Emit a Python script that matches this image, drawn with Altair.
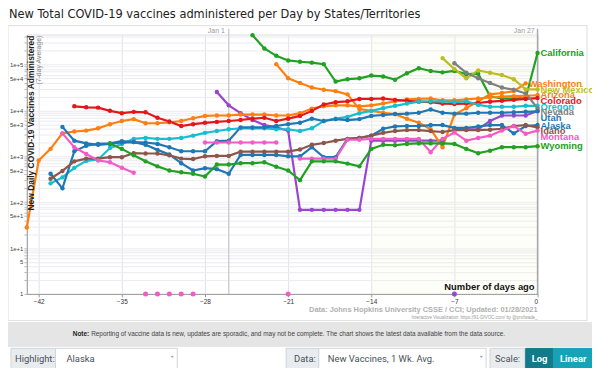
import altair as alt
import pandas as pd

# ---------------- data (7-day average new vaccines per day, by days ago) ----------------
states = ["Hawaii", "California", "Washington", "New Mexico", "Arizona", "Colorado", "Oregon",
          "Nevada", "Utah", "Alaska", "Idaho", "Montana", "Wyoming"]
colors = ["#9a45d0", "#21a121", "#ff7f0e", "#bcbd22", "#ff7f0e", "#e6141b", "#17becf",
          "#7f7f7f", "#1f77b4", "#1f77b4", "#8c564b", "#f25bc8", "#21a121"]
start_day = {"Hawaii": -27, "California": -24, "Washington": -22, "New Mexico": -8, "Arizona": -43,
             "Colorado": -39, "Oregon": -41, "Nevada": -7, "Utah": -40, "Alaska": -41,
             "Idaho": -41, "Montana": -40, "Wyoming": -36}

hawaii = [25100, 12900, 8710, 6170, 4790, 4270, 3630, 68, 68, 68, 68, 68, 68,
          2190, 2190, 2190, 2190, 2190, 2190, 2190, 0, 3890, 3890, 5890, 7760, 7760, 7760, 9770]
california = [437000, 224000, 155000, 123000, 115000, 110000, 102000, 42700, 47900, 50100,
              57500, 55000, 46800, 64600, 83200, 72400, 67600, 72400, 61700, 63100,
              20400, 18200, 18200, 18600, 178000]
washington = [102000, 50100, 39800, 31600, 28200, 26300, 22400, 10700, 9800, 8900, 8300,
              6600, 5400, 3900, 1580, 8100, 11200, 15800, 22400, 24000, 26300, 38900]
new_mexico = [138000, 79400, 50100, 74100, 66100, 58900, 47900, 28800, 28800]
arizona = [28, 810, 1450, 3160, 3470, 3630, 4070, 5010, 5890, 6460, 5250, 5250, 5500, 5890,
           6760, 7590, 7760, 7760, 8130, 8130, 8130, 7760, 7760, 8710, 10960, 12300, 12900,
           12900, 12300, 12900, 14100, 15800, 17400, 17800, 18200, 16600, 16600, 17400, 18200,
           19100, 20000, 20400, 20900, 21400]
colorado = [12300, 11700, 11500, 9800, 8700, 9300, 9100, 6900, 5750, 4570, 5010, 5370, 5620,
            5890, 6170, 6610, 6920, 5890, 6610, 7590, 9770, 13500, 15100, 15800, 17800, 17800,
            18200, 17000, 16200, 15500, 15100, 14100, 13800, 14100, 14500, 15500, 16200, 17000,
            17800, 18600]
oregon = [257, 347, 560, 794, 850, 1510, 1860, 2400, 2510, 2400, 2400, 2510, 2820, 3240, 3550,
          3890, 4070, 4070, 4070, 3890, 3890, 3550, 4070, 5890, 6610, 7240, 8710, 9770, 11200,
          12600, 14100, 15500, 15800, 15800, 15100, 15800, 13200, 12000, 12000, 12000, 12600, 12600]
nevada = [107000, 66100, 50100, 39800, 31600, 28200, 23400, 11200]
utah = [4370, 2190, 1910, 1780, 1860, 2000, 2040, 2000, 1860, 1580, 1290, 1290, 1290, 2140, 2190,
        4270, 4270, 4270, 4570, 5010, 5370, 6610, 5890, 6460, 6170, 6460, 7590, 7940, 8320, 8510,
        8910, 10500, 8910, 8510, 8510, 8910, 8910, 8910, 9120, 9330, 9550]
alaska = [417, 200, 1290, 1700, 1860, 1910, 2140, 2040, 1780, 1380, 1100, 708, 490, 550, 525, 417,
          1070, 1070, 1070, 1070, 1000, 1000, 1580, 955, 955, 2400, 2510, 2820, 3980, 4470, 4570,
          4570, 4790, 4790, 4170, 4170, 4470, 4790, 4790, 3160, 4570, 4790]
idaho = [324, 479, 776, 891, 891, 955, 955, 1170, 1150, 1150, 1050, 891, 871, 1000, 1020, 1020,
         1260, 1260, 1260, 1260, 1260, 1410, 1780, 1950, 2190, 2400, 2510, 2820, 3240, 3550, 3720,
         3720, 3550, 3390, 3720, 3720, 3720, 3800, 3980, 4570, 4790, 4270]
montana = [3160, 1580, 1120, 813, 741, 562, 437, 0, 0, 0, 0, 0, 2000, 2000, 2000, 2000, 2000,
           2000, 2000, 0, 891, 891, 891, 891, 2290, 2290, 2400, 2400, 2400, 2400, 2400, 1230, 2400,
           3310, 2190, 2510, 2820, 3630, 4570, 3090, 3630]
wyoming = [1910, 1450, 1050, 776, 603, 490, 447, 417, 363, 661, 661, 708, 708, 741, 589, 490, 302,
           776, 776, 776, 692, 603, 1450, 1780, 1740, 1860, 1910, 1910, 1910, 1860, 1450, 1170,
           1320, 1580, 1580, 1580, 1660]

series = {"Hawaii": hawaii, "California": california, "Washington": washington,
          "New Mexico": new_mexico, "Arizona": arizona, "Colorado": colorado, "Oregon": oregon,
          "Nevada": nevada, "Utah": utah, "Alaska": alaska, "Idaho": idaho, "Montana": montana,
          "Wyoming": wyoming}

label_names = ["California", "Washington", "New Mexico", "Arizona", "Colorado", "Oregon",
               "Nevada", "Utah", "Alaska", "Idaho", "Montana", "Wyoming"]
label_values = [174000, 38000, 28300, 21400, 15900, 12000, 9330, 6920, 4600, 3470, 2690, 1660]
label_days = [0, -1, 0, 0, 0, 0, 0, 0, 0, 0, 0, 0]

x_ticks = [-42, -35, -28, -21, -14, -7, 0]
y_labels = {1: "1", 5: "5", 10: "1e+1", 50: "5e+1", 100: "1e+2", 500: "5e+2", 1000: "1e+3",
            5000: "5e+3", 10000: "1e+4", 50000: "5e+4", 100000: "1e+5"}

# ---------------- build tables ----------------
rows, zeros = [], []
for name, vals in series.items():
    seg = 0
    for i, v in enumerate(vals):
        d = start_day[name] + i
        if v == 0:
            zeros.append({"state": name, "day": d, "value": 1})
            seg += 1
        else:
            rows.append({"state": name, "day": d, "value": v, "seg": f"{name}-{seg}"})
df = pd.DataFrame(rows)
zdf = pd.DataFrame(zeros)
ldf = pd.DataFrame({"state": label_names, "value": label_values, "day": label_days})

W, H = 516, 262
FONT = "Liberation Sans"
one = pd.DataFrame({"k": [0]})

y_grid_vals = [k * 10 ** e for e in range(0, 6) for k in range(1, 10) if k * 10 ** e <= 450000]
label_expr = "".join(f"datum.value=={k}?'{v}':" for k, v in y_labels.items()) + "''"

xs = alt.Scale(domain=[-43, 0], nice=False)
ys = alt.Scale(type="log", domain=[1, 450000], nice=False)
cs = alt.Scale(domain=states, range=colors)

X = alt.X("day:Q", scale=xs, axis=alt.Axis(values=x_ticks, title=None, labelFontSize=6.5,
                                          labelColor="#333", grid=True, gridColor="#e2e2ea",
                                          tickSize=3, domainColor="#999", tickColor="#999",
                                          labelFont=FONT))
Y = alt.Y("value:Q", scale=ys, axis=alt.Axis(values=y_grid_vals, labelExpr=label_expr, title=None,
                                            labelFontSize=6, labelColor="#444", grid=True,
                                            gridColor="#ebebf1", tickSize=3, domainColor="#999",
                                            tickColor="#bbb", labelFont=FONT, labelPadding=1))

cream = alt.Chart(one).mark_rect(color="#f4f4c4", opacity=0.12).encode(
    x=alt.datum(-14, scale=xs), x2=alt.datum(0), y=alt.value(0), y2=alt.value(H))

base_axes = alt.Chart(df).mark_line(opacity=0).encode(x=X, y=Y)

jan1 = alt.Chart(one).mark_rule(color="#cfcfcf", strokeWidth=1.5).encode(
    x=alt.datum(-26, scale=xs), y=alt.value(-6), y2=alt.value(H))
jan27 = alt.Chart(one).mark_rule(color="#a9a9b4", strokeWidth=1.5).encode(
    x=alt.datum(0, scale=xs), y=alt.value(-6), y2=alt.value(H))

lines = alt.Chart(df).mark_line(strokeWidth=2.2).encode(
    x=alt.X("day:Q", scale=xs), y=alt.Y("value:Q", scale=ys),
    color=alt.Color("state:N", scale=cs, legend=None), detail="seg:N", order="day:Q")
pts = alt.Chart(df).mark_circle(size=20, opacity=1).encode(
    x=alt.X("day:Q", scale=xs), y=alt.Y("value:Q", scale=ys),
    color=alt.Color("state:N", scale=cs, legend=None))
zpts = alt.Chart(zdf).mark_circle(size=26, opacity=1).encode(
    x=alt.X("day:Q", scale=xs), y=alt.Y("value:Q", scale=ys),
    color=alt.Color("state:N", scale=cs, legend=None))
labels = alt.Chart(ldf).mark_text(align="left", baseline="middle", dx=3, fontSize=9.5,
                                  fontWeight="bold", font=FONT).encode(
    x=alt.X("day:Q", scale=xs), y=alt.Y("value:Q", scale=ys),
    text="state:N", color=alt.Color("state:N", scale=cs, legend=None))


def txt(s, x, y, size, color, weight="normal", align="left", angle=0, font=FONT, baseline="middle"):
    return alt.Chart(one).mark_text(text=s, fontSize=size, color=color, fontWeight=weight,
                                    align=align, baseline=baseline, angle=angle, font=font).encode(
        x=alt.value(x), y=alt.value(y))


def box(x1, y1, x2, y2, fill, stroke="#ced4da", fo=1):
    return alt.Chart(one).mark_rect(fill=fill, stroke=stroke, strokeWidth=1, fillOpacity=fo).encode(
        x=alt.value(x1), x2=alt.value(x2), y=alt.value(y1), y2=alt.value(y2))


deco = [
    box(-19, -9, 566, 289, "#ffffff", stroke="#dedede", fo=0),
    txt("New Total COVID-19 vaccines administered per Day by States/Territories", -18, -17, 12.8,
        "#222", font="Liberation Sans Narrow, DejaVu Sans Condensed, Roboto", baseline="alphabetic"),
    txt("Jan 1", 200, -4, 7, "#999", align="right"),
    txt("Jan 27", 513, -4, 7, "#999", align="right"),
    txt("New Daily COVID-19 Vaccines Administered", 4, 1, 8.5, "#222", weight="bold", align="right", angle=270),
    txt("(7-day Average)", 12, 1, 7, "#888", align="right", angle=270),
    txt("Number of days ago", 513, 255, 9.5, "#111", weight="bold", align="right"),
    txt("Data: Johns Hopkins University CSSE / CCI; Updated: 01/28/2021", 516, 278, 7.5, "#b0b0b0",
        weight="bold", align="right"),
    txt("Interactive Visualization: https://91-DIVOC.com/ by @profwade_", 516, 286, 4.5, "#999",
        align="right"),
    box(-19, 291, 572, 315, "#e5e5e5", stroke="#e5e5e5"),
    txt("Note:", 63, 303, 6.5, "#222", weight="bold", align="right"),
    txt("Reporting of vaccine data is new, updates are sporadic, and may not be complete. "
        "The chart shows the latest data available from the data source.", 65, 303, 6.5, "#444"),
    box(-16, 317, 29, 340, "#e9ecef"),
    txt("Highlight:", -12, 328, 9.5, "#495057", font="Roboto"),
    box(29, 317, 152, 340, "#ffffff"),
    txt("Alaska", 40, 328, 9.5, "#495057", font="Roboto"),
    txt("\u02c5", 147, 329, 8, "#495057", font="DejaVu Sans", align="center"),
    box(262, 317, 295, 340, "#e9ecef"),
    txt("Data:", 270, 328, 9.5, "#495057", font="Roboto"),
    box(295, 317, 464, 340, "#ffffff"),
    txt("New Vaccines, 1 Wk. Avg.", 304, 328, 9.5, "#495057", font="Roboto"),
    txt("\u02c5", 459, 329, 8, "#495057", font="DejaVu Sans", align="center"),
    box(468, 317, 503, 340, "#e9ecef"),
    txt("Scale:", 473, 328, 9.5, "#495057", font="Roboto"),
    box(504, 317, 532, 340, "#117a8b", stroke="#117a8b"),
    txt("Log", 518, 328, 9.5, "#ffffff", weight="bold", align="center", font="Roboto"),
    box(532, 317, 574, 340, "#17a2b8", stroke="#17a2b8"),
    txt("Linear", 552, 328, 9.5, "#ffffff", weight="bold", align="center", font="Roboto"),
]

chart = alt.layer(base_axes, cream, jan1, jan27, lines, pts, zpts, labels, *deco).properties(
    width=W, height=H, autosize="none",
    padding={"left": 19, "top": 25, "right": 55, "bottom": 73},
).configure_view(stroke=None, fill="#fcfbfe").configure(background="#ffffff")

chart.save("out.html", embed_options={"renderer": "svg", "actions": False})
